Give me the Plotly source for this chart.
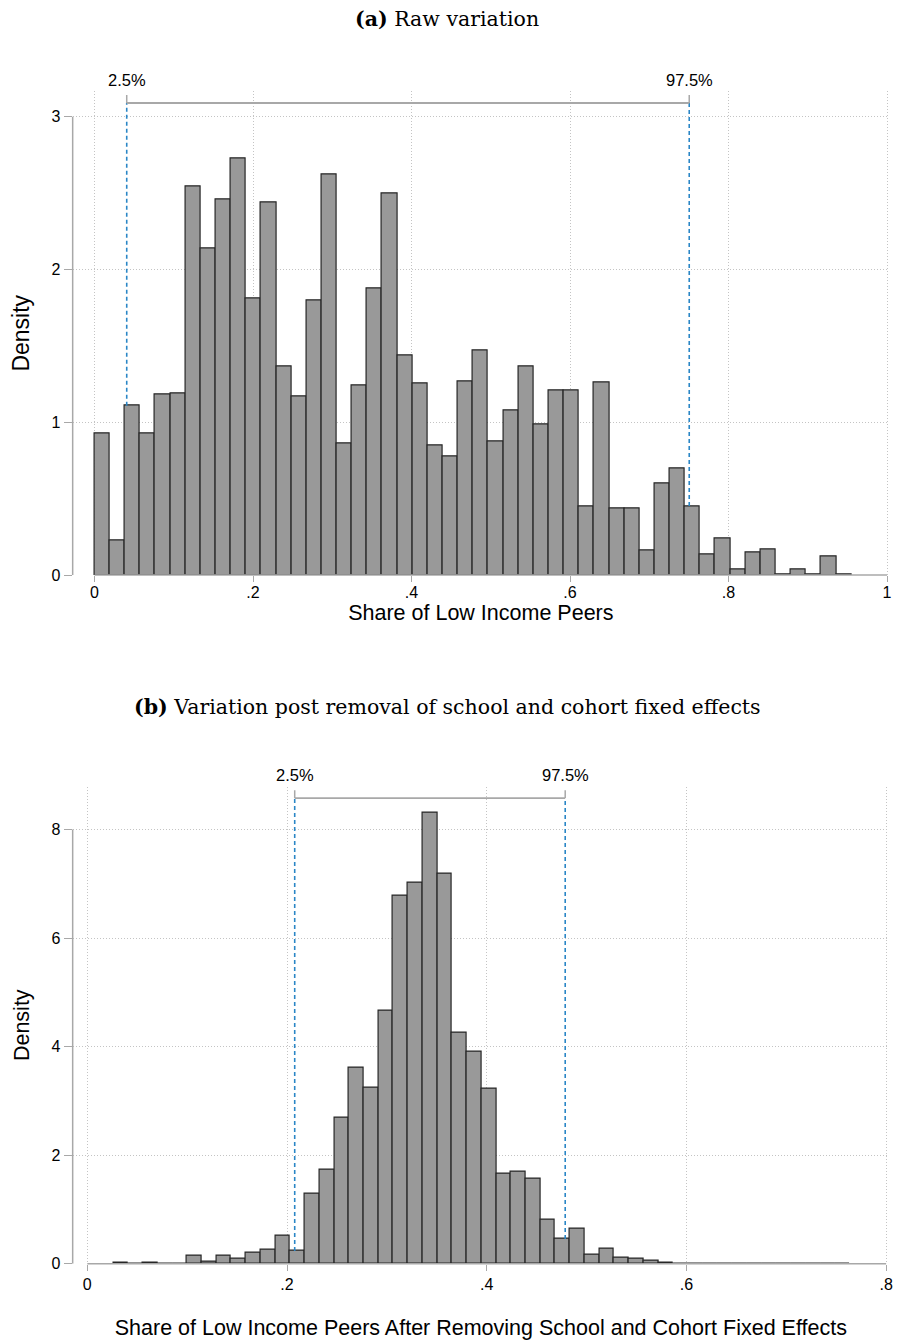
import plotly.graph_objects as go

# ---------------- data ----------------
# Panel (a): raw share of low-income peers, 50 bins starting at 0
raw_bin_start = 0.0
raw_bin_width = 0.0191
raw_density = [0.926, 0.228, 1.109, 0.930, 1.180, 1.189, 2.546, 2.141, 2.457, 2.726,
               1.813, 2.441, 1.363, 1.172, 1.798, 2.622, 0.861, 1.241, 1.878, 2.498,
               1.435, 1.257, 0.850, 0.780, 1.265, 1.472, 0.876, 1.078, 1.363, 0.987,
               1.209, 1.209, 0.452, 1.261, 0.437, 0.437, 0.165, 0.602, 0.696, 0.452,
               0.137, 0.239, 0.039, 0.146, 0.170, 0.005, 0.035, 0.003, 0.120, 0.005]
raw_p025 = 0.0406
raw_p975 = 0.7504
raw_xticks = [0, 0.2, 0.4, 0.6, 0.8, 1.0]
raw_xticklabels = ["0", ".2", ".4", ".6", ".8", "1"]
raw_yticks = [0, 1, 2, 3]
raw_yticklabels = ["0", "1", "2", "3"]

# Panel (b): residualised share, 50 bins
res_bin_start = 0.026
res_bin_width = 0.01475
res_density = [0.015, 0.0, 0.015, 0.0, 0.008, 0.14, 0.03, 0.14, 0.085, 0.21,
               0.26, 0.52, 0.235, 1.30, 1.74, 2.70, 3.61, 3.245, 4.665, 6.79,
               7.025, 8.31, 7.18, 4.26, 3.90, 3.225, 1.66, 1.70, 1.57, 0.817,
               0.457, 0.646, 0.175, 0.27, 0.11, 0.10, 0.05, 0.02, 0.006, 0.006,
               0.0, 0.0, 0.005, 0.0, 0.0, 0.0, 0.0, 0.0, 0.0, 0.005]
res_p025 = 0.2077
res_p975 = 0.4786
res_xticks = [0, 0.2, 0.4, 0.6, 0.8]
res_xticklabels = ["0", ".2", ".4", ".6", ".8"]
res_yticks = [0, 2, 4, 6, 8]
res_yticklabels = ["0", "2", "4", "6", "8"]

pct_labels = ["2.5%", "97.5%"]

# ---------------- style ----------------
W, H = 897, 1343
SANS = "Liberation Sans, Arial, sans-serif"
SERIF = "DejaVu Serif, serif"
BAR_FILL = "#999999"
BAR_LINE = "#262626"
AXIS_GRAY = "#a8a8a8"
GRID = "#c4c4c4"
BLUE = "#2a86c6"


def centers(start, width, n):
    return [start + width * (i + 0.5) for i in range(n)]


def height_at(p, start, width, vals):
    i = int((p - start) // width)
    return vals[i]


fig = go.Figure()
fig.add_trace(go.Bar(
    x=centers(raw_bin_start, raw_bin_width, len(raw_density)), y=raw_density,
    width=raw_bin_width, marker=dict(color=BAR_FILL, line=dict(color=BAR_LINE, width=1.2)),
    xaxis="x", yaxis="y", showlegend=False, hoverinfo="skip"))
fig.add_trace(go.Bar(
    x=centers(res_bin_start, res_bin_width, len(res_density)), y=res_density,
    width=res_bin_width, marker=dict(color=BAR_FILL, line=dict(color=BAR_LINE, width=1.2)),
    xaxis="x2", yaxis="y2", showlegend=False, hoverinfo="skip"))


def px_x(p):
    return p / W


def px_y(p):
    return 1 - p / H


axis_common = dict(showline=False, zeroline=False, showgrid=True, gridcolor=GRID,
                   griddash="1px,2px", gridwidth=1, ticks="outside", tickcolor=AXIS_GRAY,
                   tickwidth=1.2, tickfont=dict(family=SANS, size=16, color="black"))

fig.update_layout(
    width=W, height=H, margin=dict(l=0, r=0, t=0, b=0),
    paper_bgcolor="white", plot_bgcolor="white", bargap=0,
    xaxis=dict(domain=[px_x(73), px_x(893)], range=[-0.0276, 1.0025], anchor="y",
               tickvals=raw_xticks, ticktext=raw_xticklabels, ticklen=6,
               ticklabelstandoff=-3,
               title=dict(text="Share of Low Income Peers", standoff=0,
                          font=dict(family=SANS, size=21.5, color="black")),
               **axis_common),
    yaxis=dict(domain=[px_y(579), px_y(92)], range=[0, 3.166], anchor="x",
               tickvals=raw_yticks, ticktext=raw_yticklabels, ticklen=8,
               title=dict(text="Density", standoff=15,
                          font=dict(family=SANS, size=23, color="black")),
               **axis_common),
    xaxis2=dict(domain=[px_x(73), px_x(893)], range=[-0.01466, 0.8029], anchor="y2",
                tickvals=res_xticks, ticktext=res_xticklabels, ticklen=6,
                title=dict(text="Share of Low Income Peers After Removing School and Cohort Fixed Effects",
                           standoff=27, font=dict(family=SANS, size=21.5, color="black")),
                **axis_common),
    yaxis2=dict(domain=[px_y(1272.3), px_y(792)], range=[0, 8.79], anchor="x2",
                tickvals=res_yticks, ticktext=res_yticklabels, ticklen=8,
                title=dict(text="Density", standoff=16,
                           font=dict(family=SANS, size=21.5, color="black")),
                **axis_common),
)

shapes = []
annotations = []


def panel_decor(xr, yr, xticks, yticks, p_lo, p_hi, start, width, vals, bracket_y, tick_h):
    # axis lines spanning tick range (Stata style)
    shapes.append(dict(type="line", xref=xr, yref=yr + " domain", x0=xticks[0], x1=xticks[-1],
                       y0=0, y1=0, line=dict(color=AXIS_GRAY, width=1.5), layer="above"))
    shapes.append(dict(type="line", xref=xr + " domain", yref=yr, x0=0, x1=0,
                       y0=yticks[0], y1=yticks[-1], line=dict(color=AXIS_GRAY, width=1.5), layer="above"))
    # percentile dashed lines
    for p in (p_lo, p_hi):
        shapes.append(dict(type="line", xref=xr, yref=yr, x0=p, x1=p,
                           y0=height_at(p, start, width, vals), y1=bracket_y,
                           line=dict(color=BLUE, width=1.6, dash="4px,3px"), layer="above"))
        shapes.append(dict(type="line", xref=xr, yref=yr, x0=p, x1=p,
                           y0=bracket_y, y1=bracket_y + tick_h,
                           line=dict(color=AXIS_GRAY, width=1.5)))
    # bracket
    shapes.append(dict(type="line", xref=xr, yref=yr, x0=p_lo, x1=p_hi,
                       y0=bracket_y, y1=bracket_y, line=dict(color=AXIS_GRAY, width=1.8)))
    for p, lab in zip((p_lo, p_hi), pct_labels):
        annotations.append(dict(x=p, y=bracket_y, xref=xr, yref=yr, text=lab, showarrow=False,
                                yanchor="bottom", xanchor="center", yshift=12,
                                font=dict(family=SANS, size=16.5, color="black")))


panel_decor("x", "y", raw_xticks, raw_yticks, raw_p025, raw_p975,
            raw_bin_start, raw_bin_width, raw_density, 3.09, 0.052)
panel_decor("x2", "y2", res_xticks, res_yticks, res_p025, res_p975,
            res_bin_start, res_bin_width, res_density, 8.58, 0.146)

annotations.append(dict(x=px_x(449), y=px_y(19), xref="paper", yref="paper",
                        text="<b>(a)</b> Raw variation", showarrow=False,
                        font=dict(family=SERIF, size=20.5, color="black"),
                        xanchor="center", yanchor="middle"))
annotations.append(dict(x=px_x(450), y=px_y(712), xref="paper", yref="paper",
                        text="<b>(b)</b> Variation post removal of school and cohort fixed effects",
                        showarrow=False, font=dict(family=SERIF, size=20.5, color="black"),
                        xanchor="center", yanchor="middle"))

fig.update_layout(shapes=shapes, annotations=annotations)
fig.write_html("out.html")
